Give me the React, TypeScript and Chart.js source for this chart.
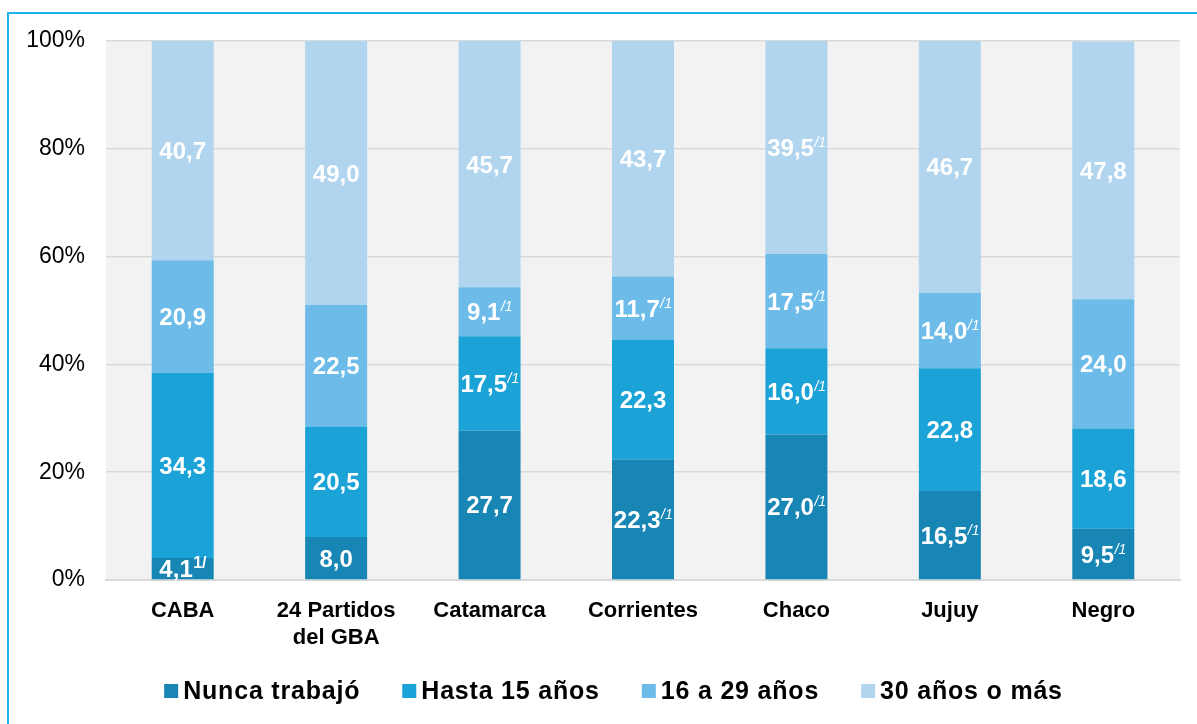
import React, { useEffect, useRef } from "react";
import { Chart, registerables } from "chart.js";

Chart.register(...registerables);

const categories: (string | string[])[] = ["CABA", ["24 Partidos", "del GBA"], "Catamarca", "Corrientes", "Chaco", "Jujuy", "Negro"];
const nuncaTrabajo = [4.1, 8.0, 27.7, 22.3, 27.0, 16.5, 9.5];
const hasta15 = [34.3, 20.5, 17.5, 22.3, 16.0, 22.8, 18.6];
const de16a29 = [20.9, 22.5, 9.1, 11.7, 17.5, 14.0, 24.0];
const mas30 = [40.7, 49.0, 45.7, 43.7, 39.5, 46.7, 47.8];
const nuncaSup = ["1/", "", "", "/1", "/1", "/1", "/1"];
const hasta15Sup = ["", "", "/1", "", "/1", "", ""];
const de16a29Sup = ["", "", "/1", "/1", "/1", "/1", ""];
const mas30Sup = ["", "", "", "", "/1", "", ""];
const seriesNames = ["Nunca trabajó", "Hasta 15 años", "16 a 29 años", "30 años o más"];
const yTicks = [0, 20, 40, 60, 80, 100];

const COLORS = ["#1786b4", "#1ba2d7", "#6cbbe8", "#b1d5ef"];
const FONT = "'Liberation Sans', Arial, sans-serif";

const sups = [nuncaSup, hasta15Sup, de16a29Sup, mas30Sup];

const bgPlugin = {
  id: "plotBg",
  beforeDraw(chart: any) {
    const { ctx, chartArea } = chart;
    ctx.save();
    ctx.fillStyle = "#f2f2f2";
    ctx.fillRect(chartArea.left, chartArea.top, chartArea.right - chartArea.left, chartArea.bottom - chartArea.top);
    ctx.restore();
  },
};

const labelPlugin = {
  id: "valueLabels",
  afterDatasetsDraw(chart: any) {
    const { ctx } = chart;
    ctx.save();
    chart.data.datasets.forEach((ds: any, di: number) => {
      const meta = chart.getDatasetMeta(di);
      meta.data.forEach((bar: any, i: number) => {
        const v = ds.data[i];
        const main = v.toFixed(1).replace(".", ",");
        const sup = sups[di][i];
        const cx = bar.x;
        const cy = (bar.y + bar.base) / 2;
        ctx.font = `bold 24px ${FONT}`;
        const w1 = ctx.measureText(main).width;
        const supFont = sup === "1/" ? `bold 16px ${FONT}` : `italic 14px ${FONT}`;
        ctx.font = supFont;
        const w2 = sup ? ctx.measureText(sup).width : 0;
        const x0 = cx - (w1 + w2) / 2;
        ctx.fillStyle = "#ffffff";
        ctx.textAlign = "left";
        ctx.textBaseline = "alphabetic";
        ctx.font = `bold 24px ${FONT}`;
        ctx.fillText(main, x0, cy + 8.5);
        if (sup) {
          ctx.font = supFont;
          ctx.fillText(sup, x0 + w1 + 0.5, cy - 0.5);
        }
      });
    });
    ctx.restore();
  },
};

const legendPlugin = {
  id: "customLegend",
  afterDraw(chart: any) {
    const { ctx } = chart;
    ctx.save();
    ctx.font = `bold 25px ${FONT}`;
    (ctx as any).letterSpacing = "0.8px";
    const box = 14;
    const boxGap = 5;
    const itemGap = 42;
    const widths = seriesNames.map((n) => ctx.measureText(n).width);
    const total = widths.reduce((a, w) => a + box + boxGap + w, 0) + itemGap * (seriesNames.length - 1);
    let x = 613.5 - total / 2;
    const yBase = 699;
    seriesNames.forEach((n, i) => {
      ctx.fillStyle = COLORS[i];
      ctx.fillRect(x, 684, box, box);
      x += box + boxGap;
      ctx.fillStyle = "#000000";
      ctx.textAlign = "left";
      ctx.textBaseline = "alphabetic";
      ctx.fillText(n, x, yBase);
      x += widths[i] + itemGap;
    });
    (ctx as any).letterSpacing = "0px";
    ctx.restore();
  },
};

export default function App() {
  const ref = useRef<HTMLCanvasElement>(null);
  useEffect(() => {
    if (!ref.current) return;
    const chart = new Chart(ref.current, {
      type: "bar",
      data: {
        labels: categories as any,
        datasets: [nuncaTrabajo, hasta15, de16a29, mas30].map((d, i) => ({
          label: seriesNames[i],
          data: d,
          backgroundColor: COLORS[i],
          borderWidth: 0,
          categoryPercentage: 1,
          barPercentage: 0.404,
        })),
      },
      options: {
        responsive: false,
        animation: false,
        layout: { padding: { left: 0, top: 41, right: 17, bottom: 74 } },
        plugins: { legend: { display: false }, tooltip: { enabled: false } },
        scales: {
          x: {
            stacked: true,
            grid: { display: false },
            border: { display: true, color: "#d9d9d9", width: 2 },
            ticks: { color: "#000000", font: { family: FONT, size: 22, weight: "bold" }, padding: 10, maxRotation: 0, autoSkip: false },
            afterFit(scale: any) {
              scale.height = 70;
            },
          },
          y: {
            stacked: true,
            min: 0,
            max: 100,
            afterBuildTicks(scale: any) {
              scale.ticks = yTicks.map((v) => ({ value: v }));
            },
            grid: { color: "#d9d9d9", lineWidth: 1.5, drawTicks: false },
            border: { display: false },
            ticks: {
              color: "#000000",
              font: { family: FONT, size: 23 },
              padding: 21,
              callback: (v: any) => v + "%",
            },
            afterFit(scale: any) {
              scale.width = 106;
            },
          },
        },
      },
      plugins: [bgPlugin, labelPlugin, legendPlugin],
    });
    return () => chart.destroy();
  }, []);
  return (
    <div style={{ position: "fixed", left: 0, top: 0, width: 1197, height: 724, background: "#ffffff", overflow: "hidden" }}>
      <div style={{ position: "absolute", left: 7, top: 12, width: 1200, height: 720, border: "2px solid #1db4ea", boxSizing: "border-box" }} />
      <canvas ref={ref} width={1197} height={724} style={{ position: "absolute", left: 0, top: 0 }} />
    </div>
  );
}
